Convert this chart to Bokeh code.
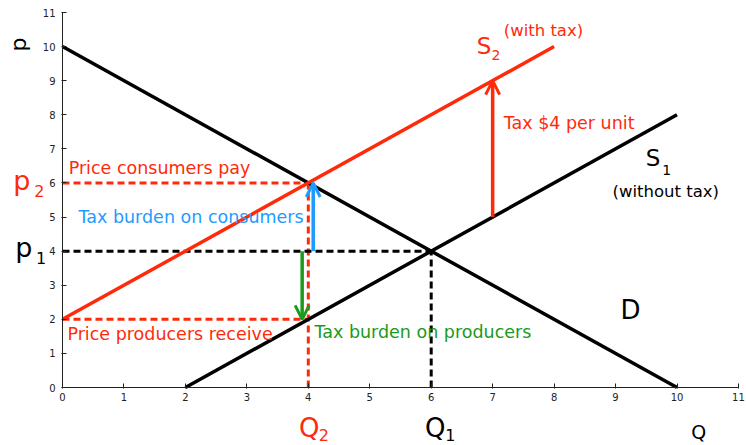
from bokeh.plotting import figure
from bokeh.models import Arrow, OpenHead, Label, Range1d, FixedTicker
from bokeh.embed import file_html
from bokeh.resources import INLINE

# ---- data ----
demand_q = [0, 10]
demand_p = [10, 0]
s1_q = [2, 10]
s1_p = [0, 8]
s2_q = [0, 8]
s2_p = [2, 10]
q_eq1, p_eq1 = 6, 4          # equilibrium without tax
q_eq2, p_cons = 4, 6         # equilibrium with tax
p_prod = 2                   # price producers receive
tax_q, tax_from, tax_to = 7, 5, 9
ticks = list(range(0, 12))

RED = "#ff2a0a"
BLUE = "#1f9bff"
GREEN = "#1b9a1b"
FONT = "DejaVu Sans"

p = figure(width=746, height=445, output_backend="svg", toolbar_location=None,
           x_range=Range1d(-1.009, 11.131), y_range=Range1d(-1.701, 11.352),
           min_border_left=0, min_border_right=0, min_border_top=0, min_border_bottom=0)
p.outline_line_color = None
p.xgrid.visible = False
p.ygrid.visible = False
p.xaxis.fixed_location = 0
p.yaxis.fixed_location = 0
for ax in (p.xaxis[0], p.yaxis[0]):
    ax.ticker = FixedTicker(ticks=ticks)
    ax.bounds = (0, 11)
    ax.minor_tick_line_color = None
    ax.major_tick_in = 4
    ax.major_tick_out = 1
    ax.major_label_text_font = FONT
    ax.major_label_text_font_size = "10px"
    ax.major_label_text_color = "#222222"
    ax.axis_line_color = "#222222"
    ax.major_tick_line_color = "#222222"
p.xaxis.major_label_standoff = 4
p.yaxis.major_label_standoff = 6

# dashed guide lines
dash = "7 4"
p.line([0, q_eq2], [p_cons, p_cons], color=RED, line_width=3, line_dash=dash)
p.line([0, q_eq2], [p_prod, p_prod], color=RED, line_width=3, line_dash=dash)
p.line([q_eq2, q_eq2], [0, p_cons], color=RED, line_width=3, line_dash=dash)
p.line([0, q_eq1], [p_eq1, p_eq1], color="black", line_width=3, line_dash=dash)
p.line([q_eq1, q_eq1], [0, p_eq1], color="black", line_width=3, line_dash=dash)

# curves
p.line(demand_q, demand_p, color="black", line_width=3.5)
p.line(s1_q, s1_p, color="black", line_width=3.5)
p.line(s2_q, s2_p, color=RED, line_width=3.5)

# arrows
p.add_layout(Arrow(end=OpenHead(size=14, line_color=BLUE, line_width=3),
                   x_start=q_eq2 + 0.08, y_start=p_eq1, x_end=q_eq2 + 0.08, y_end=p_cons,
                   line_color=BLUE, line_width=3.5))
p.add_layout(Arrow(end=OpenHead(size=14, line_color=GREEN, line_width=3),
                   x_start=q_eq2 - 0.1, y_start=p_eq1, x_end=q_eq2 - 0.1, y_end=p_prod,
                   line_color=GREEN, line_width=3.5))
p.add_layout(Arrow(end=OpenHead(size=14, line_color=RED, line_width=3),
                   x_start=tax_q, y_start=tax_from, x_end=tax_q, y_end=tax_to,
                   line_color=RED, line_width=3.5))


def lab(x, y, text, color, size, align="left", baseline="middle", angle=0):
    p.add_layout(Label(x=x, y=y, text=text, text_color=color, text_font=FONT,
                       text_font_size=f"{size}px", text_align=align,
                       text_baseline=baseline, angle=angle))


lab(0.1, 6.45, "Price consumers pay", RED, 17.5)
lab(0.26, 4.99, "Tax burden on consumers", BLUE, 17.5)
lab(0.08, 1.58, "Price producers receive", RED, 17.5)
lab(4.1, 1.64, "Tax burden on producers", GREEN, 17.5)
lab(7.18, 7.77, "Tax $4 per unit", RED, 17.5)
lab(6.74, 10.03, "S", RED, 23)
lab(6.98, 9.74, "2", RED, 14)
lab(7.18, 10.47, "(with tax)", RED, 16.5)
lab(9.49, 6.72, "S", "black", 23)
lab(9.76, 6.39, "1", "black", 14)
lab(8.95, 5.75, "(without tax)", "black", 16.5)
lab(9.08, 2.26, "D", "black", 26)
# axis-side labels
lab(-0.8, 6.08, "p", RED, 27)
lab(-0.46, 5.75, "2", RED, 16)
lab(-0.77, 4.1, "p", "black", 27)
lab(-0.43, 3.8, "1", "black", 16)
lab(3.85, -1.2, "Q", RED, 26)
lab(4.17, -1.38, "2", RED, 16)
lab(5.9, -1.2, "Q", "black", 26)
lab(6.23, -1.38, "1", "black", 16)
lab(10.23, -1.3, "Q", "black", 19)
lab(-0.716, 10.06, "p", "black", 22, align="center", angle=1.5708)

open("out.html", "w").write(file_html(p, INLINE))
